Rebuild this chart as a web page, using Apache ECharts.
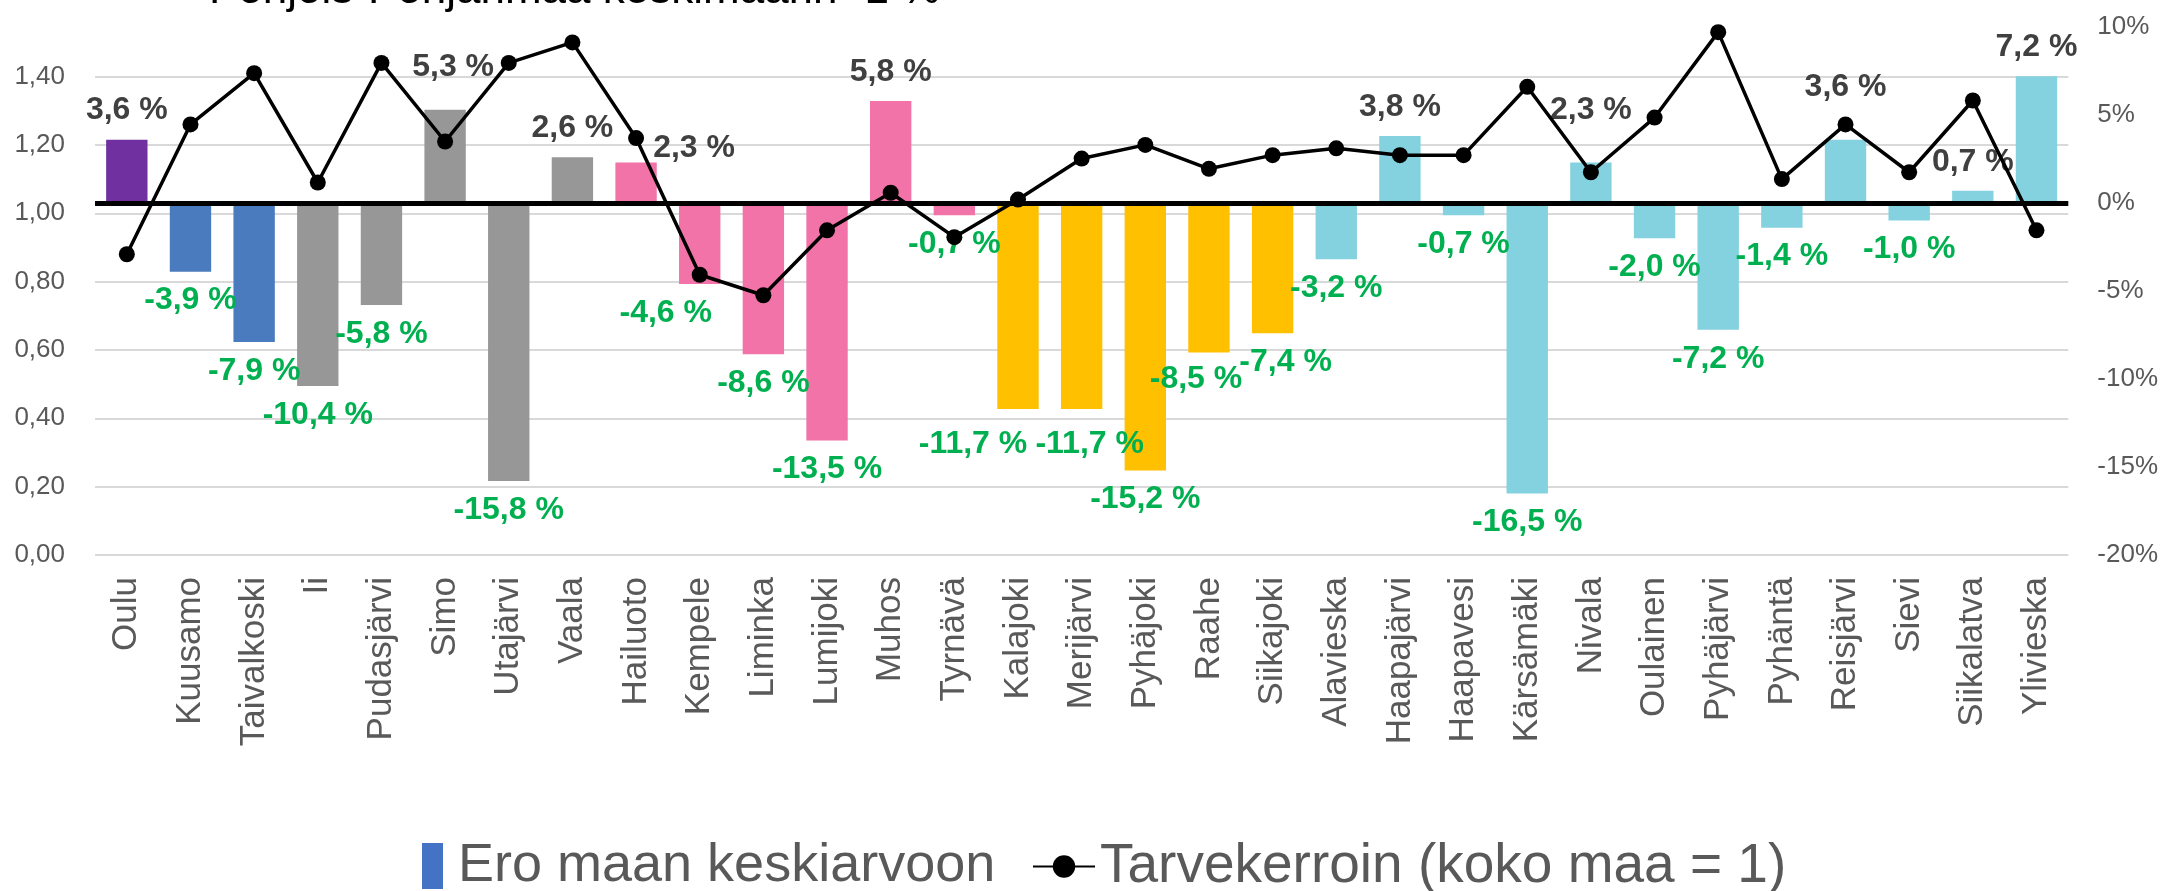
<!DOCTYPE html>
<html>
<head>
<meta charset="utf-8">
<script src="https://cdn.jsdelivr.net/npm/echarts@6/dist/echarts.min.js"></script>
<style>
html, body { margin: 0; padding: 0; background: #fff; }
#main { width: 2161px; height: 891px; }
</style>
</head>
<body>
<div id="main"></div>
<script>
// kunnat ja arvot
var kunnat = ['Oulu', 'Kuusamo', 'Taivalkoski', 'Ii', 'Pudasjärvi', 'Simo', 'Utajärvi', 'Vaala',
    'Hailuoto', 'Kempele', 'Liminka', 'Lumijoki', 'Muhos', 'Tyrnävä',
    'Kalajoki', 'Merijärvi', 'Pyhäjoki', 'Raahe', 'Siikajoki',
    'Alavieska', 'Haapajärvi', 'Haapavesi', 'Kärsämäki', 'Nivala', 'Oulainen', 'Pyhäjärvi',
    'Pyhäntä', 'Reisjärvi', 'Sievi', 'Siikalatva', 'Ylivieska'];
var seutu = ['Oulu', 'Koillismaa', 'Koillismaa', 'Oulunkaari', 'Oulunkaari', 'Oulunkaari', 'Oulunkaari', 'Oulunkaari',
    'Oulun seutu', 'Oulun seutu', 'Oulun seutu', 'Oulun seutu', 'Oulun seutu', 'Oulun seutu',
    'Raahe', 'Raahe', 'Raahe', 'Raahe', 'Raahe',
    'Jokilaaksot', 'Jokilaaksot', 'Jokilaaksot', 'Jokilaaksot', 'Jokilaaksot', 'Jokilaaksot', 'Jokilaaksot',
    'Jokilaaksot', 'Jokilaaksot', 'Jokilaaksot', 'Jokilaaksot', 'Jokilaaksot'];
var eroKeskiarvoon = [3.6, -3.9, -7.9, -10.4, -5.8, 5.3, -15.8, 2.6,
    2.3, -4.6, -8.6, -13.5, 5.8, -0.7,
    -11.7, -11.7, -15.2, -8.5, -7.4,
    -3.2, 3.8, -0.7, -16.5, 2.3, -2.0, -7.2,
    -1.4, 3.6, -1.0, 0.7, 7.2];
var tarvekerroin = [0.88, 1.26, 1.41, 1.09, 1.44, 1.21, 1.44, 1.50,
    1.22, 0.82, 0.76, 0.95, 1.06, 0.93,
    1.04, 1.16, 1.20, 1.13, 1.17,
    1.19, 1.17, 1.17, 1.37, 1.12, 1.28, 1.53,
    1.10, 1.26, 1.12, 1.33, 0.95];
var otsikko = 'Pohjois-Pohjanmaa keskimäärin -1 %';

var seutuVarit = {
    'Oulu': '#7030A0',
    'Koillismaa': '#4A7BBE',
    'Oulunkaari': '#979797',
    'Oulun seutu': '#F273A8',
    'Raahe': '#FFC000',
    'Jokilaaksot': '#84D1DF'
};
// käsin siirretyt arvojen tekstit (kuten alkuperäisessä)
var tekstiSiirrot = {
    'Simo': [8, -14],
    'Hailuoto': [58, 15],
    'Kempele': [-34, 0],
    'Kalajoki': [-45, 6],
    'Merijärvi': [8, 6],
    'Raahe': [-13, -2],
    'Siikajoki': [13, 0],
    'Nivala': [0, -23],
    'Reisjärvi': [0, -23]
};

var fontti = "'Liberation Sans', Arial, sans-serif";

function pilkku(v, des) {
    return v.toFixed(des).replace('.', ',');
}

var pylvaat = kunnat.map(function (k, i) {
    var v = eroKeskiarvoon[i];
    return {
        value: v,
        itemStyle: { color: seutuVarit[seutu[i]] },
        label: {
            color: v < 0 ? '#00B050' : '#404040',
            offset: tekstiSiirrot[k] || [0, 0]
        }
    };
});

var chart = echarts.init(document.getElementById('main'));
var option = {
    animation: false,
    backgroundColor: '#fff',
    title: {
        text: otsikko,
        left: 209,
        top: -31,
        padding: 0,
        textStyle: { fontFamily: fontti, fontSize: 44, fontWeight: 'normal', color: '#000' }
    },
    legend: [{
        data: ['Ero maan keskiarvoon'],
        left: 417,
        top: 834,
        icon: 'rect',
        itemWidth: 21,
        itemHeight: 46,
        textStyle: { fontFamily: fontti, fontSize: 54, color: '#595959', padding: [0, 0, 0, 10] }
    }, {
        data: ['Tarvekerroin (koko maa = 1)'],
        left: 1027,
        top: 834,
        itemWidth: 62,
        itemHeight: 28,
        textStyle: { fontFamily: fontti, fontSize: 55, color: '#595959' }
    }],
    grid: { left: 95, right: 92, top: 27, bottom: 336 },
    xAxis: {
        type: 'category',
        data: kunnat,
        axisLine: { show: false },
        axisTick: { show: false },
        axisLabel: {
            interval: 0,
            rotate: 90,
            margin: 22,
            fontFamily: fontti,
            fontSize: 35,
            color: '#595959'
        }
    },
    yAxis: [{
        type: 'value',
        min: 0,
        max: 1.545,
        interval: 0.2,
        axisLine: { show: false },
        axisTick: { show: false },
        splitLine: { showMaxLine: false, lineStyle: { color: '#D9D9D9', width: 2 } },
        axisLabel: {
            showMaxLabel: false,
            margin: 30,
            fontFamily: fontti,
            fontSize: 26,
            color: '#595959',
            formatter: function (v) { return pilkku(v, 2); }
        }
    }, {
        type: 'value',
        min: -20,
        max: 10,
        interval: 5,
        position: 'right',
        axisLine: { show: false },
        axisTick: { show: false },
        splitLine: { show: false },
        axisLabel: {
            margin: 29,
            fontFamily: fontti,
            fontSize: 26,
            color: '#595959',
            formatter: function (v) { return v + '%'; }
        }
    }],
    series: [{
        name: 'Ero maan keskiarvoon',
        type: 'bar',
        yAxisIndex: 1,
        barWidth: '65%',
        itemStyle: { color: '#4472C4' },
        data: pylvaat,
        label: {
            show: true,
            position: 'outside',
            distance: 13,
            fontFamily: fontti,
            fontSize: 32,
            fontWeight: 'bold',
            formatter: function (p) { return pilkku(p.value, 1) + ' %'; }
        },
        markLine: {
            silent: true,
            symbol: 'none',
            label: { show: false },
            lineStyle: { color: '#000', width: 5, type: 'solid' },
            data: [{ yAxis: 0 }]
        }
    }, {
        name: 'Tarvekerroin (koko maa = 1)',
        type: 'line',
        yAxisIndex: 0,
        data: tarvekerroin,
        symbol: 'circle',
        symbolSize: 16,
        itemStyle: { color: '#000' },
        lineStyle: { color: '#000', width: 3.5 },
        z: 5
    }]
};
chart.setOption(option);
</script>
</body>
</html>
